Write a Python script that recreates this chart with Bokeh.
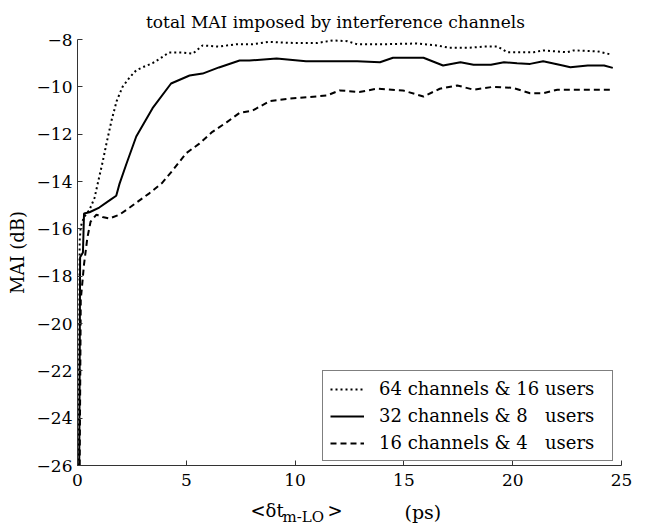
from bokeh.plotting import figure
from bokeh.models import Range1d, FixedTicker, Label, Legend, LegendItem
from bokeh.embed import file_html
from bokeh.resources import INLINE

# ---- data ----
x_64 = [0.05, 0.1, 0.15, 0.3, 0.55, 0.78, 1.0, 1.15, 1.33, 1.57, 1.8, 2.07, 2.4, 2.7, 3.05,
        3.45, 3.8, 4.2, 4.8, 5.3, 5.75, 6.5, 7.3, 8.06, 8.8, 10.0, 11.0, 11.74, 12.4, 12.85,
        14.0, 15.6, 16.5, 17.1, 18.0, 18.65, 19.3, 19.75, 20.95, 21.4, 22.5, 22.8, 23.9, 24.5]
y_64 = [-26, -16.5, -15.9, -15.5, -15.2, -14.7, -13.8, -13.2, -12.4, -11.4, -10.6, -10.0, -9.6,
        -9.3, -9.15, -9.0, -8.8, -8.55, -8.55, -8.6, -8.25, -8.3, -8.2, -8.2, -8.1, -8.15,
        -8.15, -8.04, -8.07, -8.2, -8.2, -8.17, -8.25, -8.35, -8.35, -8.3, -8.3, -8.54, -8.54,
        -8.46, -8.54, -8.46, -8.5, -8.63]

x_32 = [0.08, 0.12, 0.25, 0.3, 0.55, 1.0, 1.47, 1.78, 1.93, 2.25, 2.7, 3.45, 4.3, 5.15, 5.75,
        6.5, 7.45, 7.9, 9.15, 10.5, 12.85, 13.9, 14.5, 15.9, 16.8, 17.6, 18.2, 19.0, 19.6,
        20.2, 20.8, 21.4, 22.3, 22.65, 23.45, 24.2, 24.6]
y_32 = [-26, -17.2, -17.0, -15.35, -15.3, -15.1, -14.8, -14.6, -14.1, -13.25, -12.1, -10.9,
        -9.86, -9.52, -9.44, -9.18, -8.89, -8.89, -8.8, -8.92, -8.92, -8.96, -8.77, -8.77,
        -9.1, -8.96, -9.07, -9.07, -8.96, -9.0, -9.03, -8.92, -9.1, -9.17, -9.1, -9.1, -9.2]

x_16 = [0.1, 0.15, 0.3, 0.45, 0.6, 0.87, 1.15, 1.47, 1.93, 2.4, 2.7, 3.3, 3.9, 4.4, 5.0, 5.6,
        6.2, 6.85, 7.45, 8.05, 8.85, 9.75, 11.45, 12.05, 12.95, 13.75, 14.95, 15.9, 16.65,
        17.45, 18.2, 19.1, 20.0, 20.8, 21.4, 22.05, 23.25, 24.6]
y_16 = [-26, -19.0, -17.5, -16.4, -15.7, -15.4, -15.5, -15.56, -15.4, -15.1, -14.9, -14.5,
        -14.05, -13.5, -12.8, -12.4, -11.9, -11.5, -11.1, -11.0, -10.6, -10.5, -10.37, -10.15,
        -10.22, -10.08, -10.15, -10.41, -10.08, -9.94, -10.12, -10.0, -10.04, -10.27, -10.27,
        -10.12, -10.12, -10.12]

series_labels = ["64 channels & 16 users",
                 "32 channels & 8\u00a0\u00a0\u00a0users",
                 "16 channels & 4\u00a0\u00a0\u00a0users"]
x_ticks = [0, 5, 10, 15, 20, 25]
y_ticks = [-26, -24, -22, -20, -18, -16, -14, -12, -10, -8]
x_lim = (0, 25)
y_lim = (-26, -8)

FONT = "DejaVu Serif"
AXC = "#333333"
W, H = 652, 525
# axes box inside the canvas (pixels)
AX_L, AX_R, AX_T, AX_B = 77, 621, 39, 465

sx = (x_lim[1] - x_lim[0]) / (AX_R - AX_L)
sy = (y_lim[1] - y_lim[0]) / (AX_B - AX_T)
xr = Range1d(x_lim[0] - AX_L * sx, x_lim[1] + (W - AX_R) * sx)
yr = Range1d(y_lim[0] - (H - AX_B) * sy, y_lim[1] + AX_T * sy)

p = figure(width=W, height=H, output_backend="svg", toolbar_location=None,
           x_range=xr, y_range=yr,
           min_border_left=0, min_border_right=0, min_border_top=0, min_border_bottom=0)
p.outline_line_color = None
p.xgrid.visible = False
p.ygrid.visible = False
p.background_fill_color = "white"
p.border_fill_color = "white"

r64 = p.line(x_64, y_64, line_color="black", line_width=2, line_dash="2 3")
r32 = p.line(x_32, y_32, line_color="black", line_width=2)
r16 = p.line(x_16, y_16, line_color="black", line_width=2, line_dash="6 4")

xa, ya = p.xaxis[0], p.yaxis[0]
xa.fixed_location = y_lim[0]
ya.fixed_location = x_lim[0]
xa.bounds = x_lim
ya.bounds = y_lim
for ax in (xa, ya):
    ax.axis_line_color = AXC
    ax.major_tick_line_color = AXC
    ax.major_tick_in = 5
    ax.major_tick_out = 0
    ax.minor_tick_line_color = None
    ax.major_label_text_font = FONT
    ax.major_label_text_font_size = "17px"
    ax.major_label_text_color = "black"

xa.ticker = FixedTicker(ticks=x_ticks)
ya.ticker = FixedTicker(ticks=y_ticks)
xa.major_label_standoff = 8
ya.major_label_standoff = 5

ya.axis_label = "MAI (dB)"
ya.axis_label_text_font = FONT
ya.axis_label_text_font_size = "18px"
ya.axis_label_text_font_style = "normal"
ya.axis_label_text_color = "black"
ya.axis_label_standoff = 6


def lab(text, cx, cy, size, align="left"):
    # cx, cy: canvas pixels from the top-left corner (baseline position)
    p.add_layout(Label(x=cx, y=H - cy, x_units="screen", y_units="screen", text=text,
                       text_font=FONT, text_font_size=size, text_color="black",
                       text_align=align, text_baseline="alphabetic"))


lab("total MAI imposed by interference channels", 335, 21, "17px", "center")
lab("<\u03b4t", 250, 510, "18px")
lab("m-LO", 282, 516, "15px")
lab(">", 327, 510, "18px")
lab("(ps)", 404, 511, "19px")

legend = Legend(items=[LegendItem(label=series_labels[0], renderers=[r64]),
                       LegendItem(label=series_labels[1], renderers=[r32]),
                       LegendItem(label=series_labels[2], renderers=[r16])],
                location=(322, H - 461))
legend.border_line_color = "black"
legend.border_line_width = 1
legend.background_fill_color = "white"
legend.background_fill_alpha = 1
legend.label_text_font = FONT
legend.label_text_font_size = "18px"
legend.label_text_color = "black"
legend.glyph_width = 34
legend.glyph_height = 20
legend.label_height = 20
legend.label_width = 226
legend.spacing = 6
legend.padding = 7
legend.label_standoff = 15
legend.margin = 0
p.add_layout(legend, "center")

open("out.html", "w").write(file_html(p, INLINE))
